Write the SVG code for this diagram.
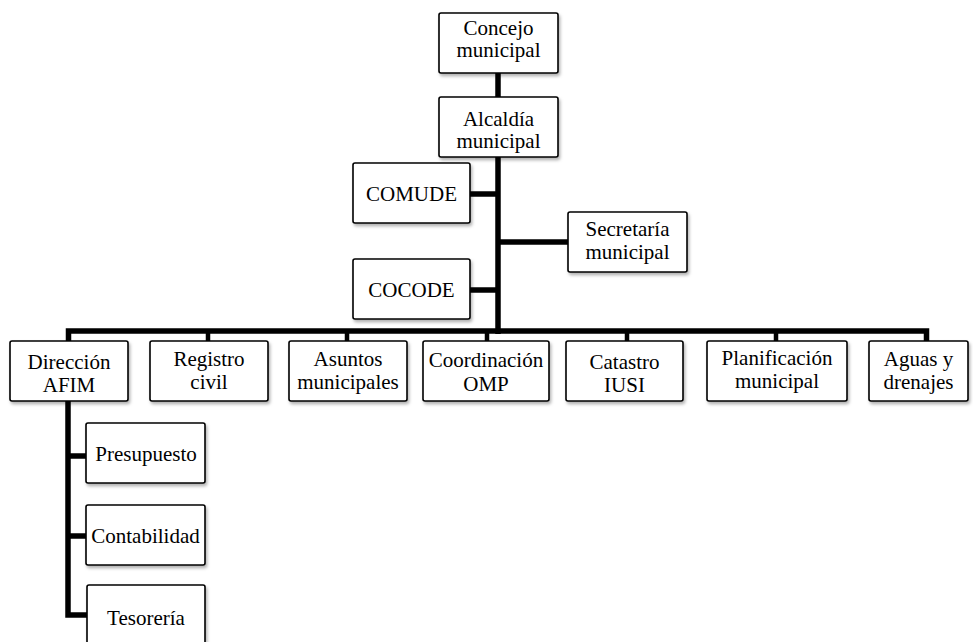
<svg xmlns="http://www.w3.org/2000/svg" width="973" height="642" viewBox="0 0 973 642">
<defs>
<filter id="sh" x="-10%" y="-10%" width="125%" height="130%">
<feDropShadow dx="1.5" dy="2.5" stdDeviation="1.5" flood-color="#000" flood-opacity="0.3"/>
</filter>
<style>
.box{fill:#fff;stroke:#000;stroke-width:1.6;filter:url(#sh)}
.t{font-family:"Liberation Serif","Times New Roman",serif;font-size:21px;fill:#000;text-anchor:middle}
.c{fill:none;stroke:#000;stroke-width:5.5;stroke-linejoin:miter;stroke-linecap:butt}
.d{fill:none;stroke:#000;stroke-width:4.5}
</style>
</defs>
<rect width="973" height="642" fill="#fff"/>
<g id="connectors">
<path class="c" d="M498,73 V97"/>
<path class="c" d="M498,157 V334"/>
<path class="c" d="M470,194 H498"/>
<path class="c" d="M470,290 H498"/>
<path class="c" d="M498,242 H568"/>
<path class="c" d="M68.5,341 V331 H926.5 V341"/>
<path class="d" d="M208,331 V341 M347,331 V341 M487,331 V341 M627,331 V341 M776,331 V341"/>
<path class="c" d="M68,401 V615 H87"/>
<path class="c" d="M68,456 H86 M68,536 H86"/>
</g>
<g id="concejo"><rect class="box" x="439" y="13" width="119" height="60" rx="2"/><text class="t" x="498.5" y="35">Concejo</text><text class="t" x="498.5" y="57">municipal</text></g>
<g id="alcaldia"><rect class="box" x="439" y="97" width="119" height="60" rx="2"/><text class="t" x="498.5" y="126">Alcaldía</text><text class="t" x="498.5" y="148">municipal</text></g>
<g id="comude"><rect class="box" x="353" y="163" width="117" height="60" rx="2"/><text class="t" x="411.5" y="201">COMUDE</text></g>
<g id="cocode"><rect class="box" x="353" y="259" width="117" height="60" rx="2"/><text class="t" x="411.5" y="297">COCODE</text></g>
<g id="secretaria"><rect class="box" x="568" y="212" width="119" height="60" rx="2"/><text class="t" x="627.5" y="236">Secretaría</text><text class="t" x="627.5" y="259">municipal</text></g>
<g id="direccion"><rect class="box" x="10" y="341" width="118" height="60" rx="2"/><text class="t" x="69" y="369">Dirección</text><text class="t" x="69" y="392">AFIM</text></g>
<g id="registro"><rect class="box" x="150" y="341" width="118" height="60" rx="2"/><text class="t" x="209" y="366">Registro</text><text class="t" x="209" y="389">civil</text></g>
<g id="asuntos"><rect class="box" x="289" y="341" width="118" height="60" rx="2"/><text class="t" x="348" y="366">Asuntos</text><text class="t" x="348" y="389">municipales</text></g>
<g id="coordinacion"><rect class="box" x="423" y="341" width="126" height="60" rx="2"/><text class="t" x="486" y="367">Coordinación</text><text class="t" x="486" y="391">OMP</text></g>
<g id="catastro"><rect class="box" x="566" y="341" width="117" height="60" rx="2"/><text class="t" x="624.5" y="369">Catastro</text><text class="t" x="624.5" y="392">IUSI</text></g>
<g id="planificacion"><rect class="box" x="707" y="341" width="140" height="60" rx="2"/><text class="t" x="777" y="365">Planificación</text><text class="t" x="777" y="388">municipal</text></g>
<g id="aguas"><rect class="box" x="869" y="341" width="99" height="60" rx="2"/><text class="t" x="918.5" y="366">Aguas y</text><text class="t" x="918.5" y="389">drenajes</text></g>
<g id="presupuesto"><rect class="box" x="86" y="423" width="119" height="60" rx="2"/><text class="t" x="146" y="461">Presupuesto</text></g>
<g id="contabilidad"><rect class="box" x="86" y="505" width="119" height="60" rx="2"/><text class="t" x="145.5" y="543">Contabilidad</text></g>
<g id="tesoreria"><rect class="box" x="87" y="585" width="118" height="60" rx="2"/><text class="t" x="146" y="625">Tesorería</text></g>
</svg>
